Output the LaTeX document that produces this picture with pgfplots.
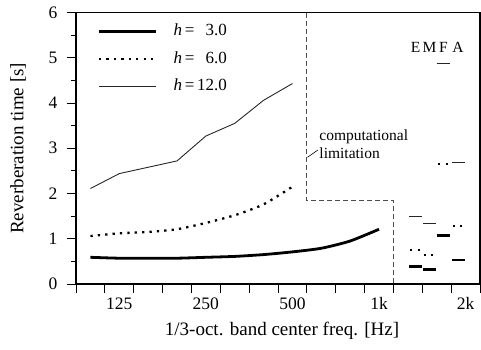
\documentclass[border=0pt]{standalone}
\usepackage{fontspec}
\setmainfont{Liberation Serif}
\usepackage{pgfplots}
\pgfplotsset{compat=1.18}

% reverberation time per 1/3-octave band (band index 0 = 100 Hz ... 13 = 2 kHz)
\pgfplotstableread{
x y
0 0.59
1 0.57
2 0.57
3 0.57
4 0.59
5 0.61
6 0.65
7 0.71
8 0.79
9 0.95
10 1.21
}\hthree
\pgfplotstableread{
x y
0 1.06
1 1.12
2 1.15
3 1.21
4 1.35
5 1.52
6 1.76
7 2.15
}\hsix
\pgfplotstableread{
x y
0 2.11
1 2.44
2 2.58
3 2.72
4 3.27
5 3.55
6 4.06
7 4.43
}\htwelve

\newcommand\tickfont{\fontsize{17.5}{20}\selectfont}
\newcommand\labfont{\fontsize{19}{22}\selectfont}
\newcommand\notefont{\fontsize{15.5}{18}\selectfont}

\begin{document}
\begin{tikzpicture}
\begin{axis}[
  scale only axis,
  width=404pt, height=271.5pt,
  xmin=-0.5, xmax=13.5, ymin=0, ymax=6,
  axis line style={line width=1.5pt},
  tick style={line width=0.9pt, black},
  tick align=outside,
  xtick pos=left, ytick pos=left,
  major tick length=9pt, minor tick length=4.5pt,
  % band edges as ticks, band names centred between them
  xtick={-0.5,0.5,...,13.5},
  x tick label as interval,
  xticklabels={{},125,{},{},250,{},{},500,{},{},1k,{},{},2k},
  ytick={0,1,...,6},
  minor y tick num=1,
  /pgf/number format/assume math mode=true,
  tick label style={font=\tickfont},
  yticklabel style={xshift=-6pt},
  xticklabel style={yshift=-1pt},
  xlabel={1/3-oct. band center freq. [Hz]},
  ylabel={Reverberation time [s]},
  every axis x label/.style={at={(axis description cs:0.51,0)}, anchor=center, yshift=-47pt, font=\labfont},
  every axis y label/.style={at={(axis description cs:-0.1436,0.5)}, anchor=center, rotate=90, font=\labfont},
  legend style={draw=none, fill=none, at={(axis cs:-0.5,6)}, anchor=north west,
    xshift=21.5pt, yshift=-11pt, inner sep=0pt, row sep=11.5pt, column sep=16pt,
    font=\fontsize{17}{20}\selectfont,
    nodes={inner sep=0pt, text height=12pt, text depth=4pt}},
  legend cell align=left,
  legend image code/.code={\draw[#1] (0pt,0pt) -- (57pt,0pt);},
]
\addplot[black, line width=2.8pt, smooth, tension=0.4] table[x=x,y=y] {\hthree};
\addlegendentry{\textit{h}\,=\,\phantom{1}3.0}
\addplot[black, line width=2.3pt, dash pattern=on 2.3pt off 5.1pt, smooth, tension=0.4] table[x=x,y=y] {\hsix};
\addlegendentry{\textit{h}\,=\,\phantom{1}6.0}
\addplot[black!85, line width=0.9pt] table[x=x,y=y] {\htwelve};
\addlegendentry{\textit{h}\,=\,12.0}

% boundary of the computable range
\addplot[black!70, line width=0.9pt, dash pattern=on 5pt off 3pt, forget plot]
  coordinates {(7.5,6) (7.5,1.85) (10.5,1.85) (10.5,0)};
\draw[black, line width=0.6pt] (axis cs:7.52,2.8) -- (axis cs:7.88,2.96);
\node[anchor=west, align=left, font=\notefont, inner sep=0pt] at (axis cs:7.93,3.08)
  {computational\\limitation};

% EMFA results: four half-band columns E, M, F, A
\node[font=\notefont] at (axis cs:11.27,5.22) {E};
\node[font=\notefont] at (axis cs:11.75,5.22) {M};
\node[font=\notefont] at (axis cs:12.23,5.22) {F};
\node[font=\notefont] at (axis cs:12.74,5.22) {A};

\addplot[black, line width=2.8pt, forget plot] coordinates {(11.05,0.38) (11.5,0.38)};
\addplot[black, line width=2.8pt, forget plot] coordinates {(11.52,0.32) (11.97,0.32)};
\addplot[black, line width=2.8pt, forget plot] coordinates {(12.0,1.08) (12.46,1.08)};
\addplot[black, line width=2.8pt, forget plot] coordinates {(12.52,0.53) (12.98,0.53)};

\addplot[black, line width=2.3pt, dash pattern=on 2.3pt off 5.1pt, forget plot] coordinates {(11.08,0.75) (11.45,0.75)};
\addplot[black, line width=2.3pt, dash pattern=on 2.3pt off 5.1pt, forget plot] coordinates {(11.55,0.64) (11.92,0.64)};
\addplot[black, line width=2.3pt, dash pattern=on 2.3pt off 5.1pt, forget plot] coordinates {(12.05,2.65) (12.42,2.65)};
\addplot[black, line width=2.3pt, dash pattern=on 2.3pt off 5.1pt, forget plot] coordinates {(12.55,1.28) (12.92,1.28)};

\addplot[black!85, line width=0.9pt, forget plot] coordinates {(11.05,1.50) (11.5,1.50)};
\addplot[black!85, line width=0.9pt, forget plot] coordinates {(11.52,1.34) (11.97,1.34)};
\addplot[black!85, line width=0.9pt, forget plot] coordinates {(12.0,4.88) (12.46,4.88)};
\addplot[black!85, line width=0.9pt, forget plot] coordinates {(12.52,2.68) (12.98,2.68)};
\end{axis}
\pgfresetboundingbox
\useasboundingbox (-76pt,-65pt) rectangle (405pt,284pt);
\end{tikzpicture}
\end{document}
